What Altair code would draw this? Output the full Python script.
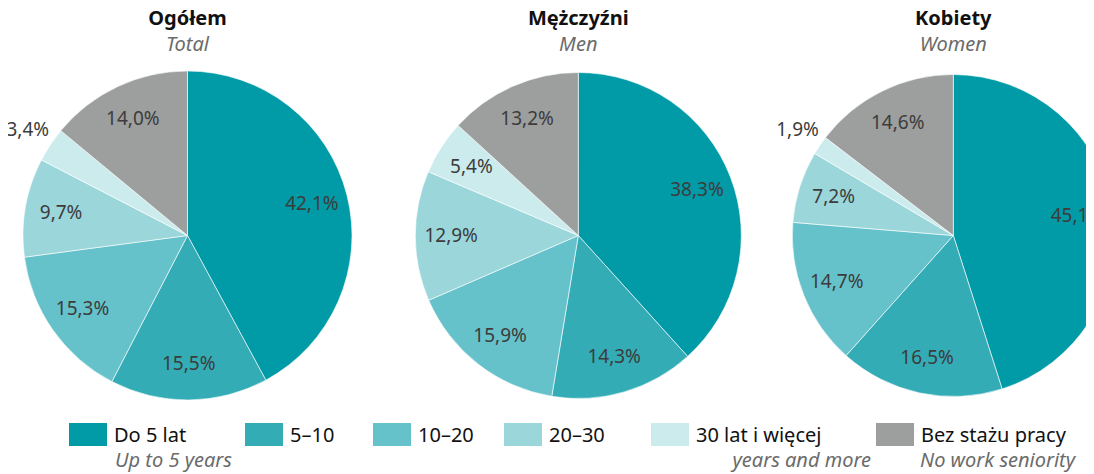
import math
import altair as alt
import pandas as pd

# ---------------- data ----------------
PANELS_PL = ["Ogółem", "Mężczyźni", "Kobiety"]
PANELS_EN = ["Total", "Men", "Women"]
CATEGORIES = ["Do 5 lat", "5–10", "10–20", "20–30", "30 lat i więcej", "Bez stażu pracy"]
CATEGORIES_EN = ["Up to 5 years", "", "", "", "years and more", "No work seniority"]
TOTAL = [42.1, 15.5, 15.3, 9.7, 3.4, 14.0]
MEN = [38.3, 14.3, 15.9, 12.9, 5.4, 13.2]
WOMEN = [45.1, 16.5, 14.7, 7.2, 1.9, 14.6]

# ---------------- style / layout ----------------
COLORS = ["#009ba6", "#33acb6", "#66c2ca", "#9ad6da", "#ccebed", "#9d9e9e"]
FONT = "Noto Sans"
W, H = 1078, 466
PIE_CX = [179.5, 570.3, 945.3]
PIE_CY = 227.5
PIE_R = [164.5, 163.0, 161.0]
LEG_X = [61, 237, 365, 496, 643, 868]
LEG_W = 38
LEG_Y, LEG_Y2 = 415, 438
SUB_ALIGN = ["left", "left", "left", "left", "right", "left"]
SUB_X = [107, 0, 0, 0, 863, 912]

rows = []
for pl, cx, r, vals in zip(PANELS_PL, PIE_CX, PIE_R, [TOTAL, MEN, WOMEN]):
    for i, (c, v) in enumerate(zip(CATEGORIES, vals)):
        rows.append(dict(panel=pl, order=i, category=c, value=v, cx=cx, r=r))
pie_df = pd.DataFrame(rows)

color_scale = alt.Scale(domain=CATEGORIES, range=COLORS)
theta_scale = alt.Scale(domain=[0, 100], range=[0, 2 * math.pi])

base = alt.Chart(pie_df).transform_window(
    cum="sum(value)", groupby=["panel"], sort=[alt.SortField("order")], frame=[None, 0]
).transform_calculate(
    start="datum.cum - datum.value",
    mid="datum.cum - datum.value / 2",
    label="replace(format(datum.value, '.1f'), '.', ',') + '%'",
    lr="datum.value < 4 ? datum.r + 27 : datum.r * 0.78",
    cy=str(PIE_CY),
)

arcs = base.mark_arc(stroke="white", strokeWidth=0.6, clip=True).encode(
    x=alt.X("cx:Q", scale=None, axis=None),
    y=alt.Y("cy:Q", scale=None, axis=None),
    theta=alt.Theta("start:Q", scale=theta_scale, stack=None),
    theta2="cum:Q",
    radius=alt.Radius("r:Q", scale=None),
    color=alt.Color("category:N", scale=color_scale, legend=None),
)

labels = base.mark_text(font=FONT, fontSize=19, color="#3c3c3c").encode(
    x=alt.X("cx:Q", scale=None, axis=None),
    y=alt.Y("cy:Q", scale=None, axis=None),
    theta=alt.Theta("mid:Q", scale=theta_scale, stack=None),
    radius=alt.Radius("lr:Q", scale=None),
    text="label:N",
)

titles_df = pd.DataFrame(dict(pl=PANELS_PL, en=PANELS_EN, cx=PIE_CX))
t_pl = alt.Chart(titles_df).mark_text(
    font=FONT, fontSize=20, fontWeight="bold", color="#111111", baseline="alphabetic"
).encode(x=alt.X("cx:Q", scale=None, axis=None), y=alt.value(17), text="pl:N")
t_en = alt.Chart(titles_df).mark_text(
    font=FONT, fontSize=20, fontStyle="italic", color="#6b6b6b", baseline="alphabetic"
).encode(x=alt.X("cx:Q", scale=None, axis=None), y=alt.value(42.5), text="en:N")

leg_df = pd.DataFrame(dict(category=CATEGORIES, en=CATEGORIES_EN, lx=LEG_X,
                           sx=SUB_X, salign=SUB_ALIGN))
leg_base = alt.Chart(leg_df).transform_calculate(
    lx2=f"datum.lx + {LEG_W}", tx=f"datum.lx + {LEG_W + 7}"
)
rects = leg_base.mark_rect().encode(
    x=alt.X("lx:Q", scale=None, axis=None),
    x2="lx2:Q",
    y=alt.value(LEG_Y),
    y2=alt.value(LEG_Y2),
    color=alt.Color("category:N", scale=color_scale, legend=None),
)
leg_text = leg_base.mark_text(
    font=FONT, fontSize=20, color="#111111", align="left", baseline="alphabetic"
).encode(x=alt.X("tx:Q", scale=None, axis=None), y=alt.value(433.7), text="category:N")

sub_left = leg_base.transform_filter(
    "datum.en != '' && datum.salign == 'left'"
).mark_text(
    font=FONT, fontSize=20, fontStyle="italic", color="#6b6b6b", align="left", baseline="alphabetic"
).encode(x=alt.X("sx:Q", scale=None, axis=None), y=alt.value(459.3), text="en:N")
sub_right = leg_base.transform_filter(
    "datum.en != '' && datum.salign == 'right'"
).mark_text(
    font=FONT, fontSize=20, fontStyle="italic", color="#6b6b6b", align="right", baseline="alphabetic"
).encode(x=alt.X("sx:Q", scale=None, axis=None), y=alt.value(459.3), text="en:N")

chart = alt.layer(
    arcs, labels, t_pl, t_en, rects, leg_text, sub_left, sub_right
).properties(
    width=W, height=H, padding=0, autosize=alt.AutoSizeParams(type="none"),
    background="white",
).configure_view(stroke=None)

chart.save("out.html", embed_options={"renderer": "svg", "actions": False})
